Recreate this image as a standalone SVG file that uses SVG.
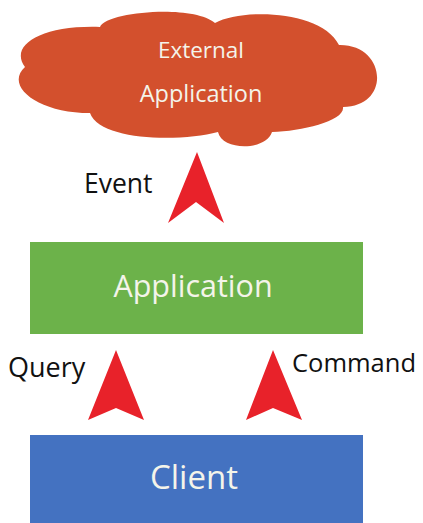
<svg xmlns="http://www.w3.org/2000/svg" width="423" height="523" viewBox="0 0 423 523">
  <style>
    .lbl { font-family: "Open Sans", "Noto Sans", "Liberation Sans", sans-serif; text-anchor: middle; }
    .inner { fill: #f4f4ea; }
    .edge-lbl { fill: #111111; font-family: "Open Sans", "Noto Sans", "Liberation Sans", sans-serif; }
    .arrow { fill: #e8222a; }
  </style>
  <rect width="423" height="523" fill="#ffffff"/>

  <!-- external system shown as a cloud -->
  <g id="external-application">
    <path fill="#d3502d" d="M 100 27 C 106 12, 192 4, 215 23 C 242 8, 322 10, 339 45 C 386 44, 392 106, 343 107 C 345 121, 302 131, 272 132 C 266 151, 222 151, 218 132 C 180 142, 100 141, 90 113 C 38 113, 4 86, 25 67 C 9 46, 40 25, 100 27 Z"/>
    <text class="lbl inner" x="201" y="58" font-size="22.5">External</text>
    <text class="lbl inner" x="201" y="102" font-size="23.5">Application</text>
  </g>

  <g id="application">
    <rect x="30" y="242" width="333" height="92" fill="#6cb24a"/>
    <text class="lbl inner" x="193" y="297" font-size="30.5">Application</text>
  </g>

  <g id="client">
    <rect x="30" y="435" width="333" height="88" fill="#4472c1"/>
    <text class="lbl inner" x="194" y="489" font-size="33">Client</text>
  </g>

  <!-- flows between the layers -->
  <g id="connectors">
    <path class="arrow" d="M 197 152 L 224 223 L 196 202 L 168 223 Z"/>
    <path class="arrow" d="M 116 350 L 144 420 L 116 408 L 88 420 Z"/>
    <path class="arrow" d="M 273 350 L 302 420 L 273 408 L 246 420 Z"/>
    <text class="edge-lbl" x="84" y="193" font-size="26.5">Event</text>
    <text class="edge-lbl" x="8" y="377" font-size="27">Query</text>
    <text class="edge-lbl" x="292" y="372" font-size="25.5">Command</text>
  </g>
</svg>
